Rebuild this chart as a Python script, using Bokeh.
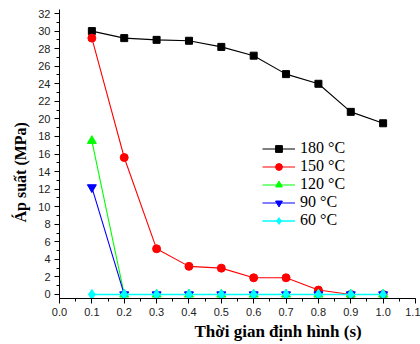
import numpy as np
from bokeh.plotting import figure
from bokeh.models import (Range1d, FixedTicker, PrintfTickFormatter, Legend, LegendItem, Title)
from bokeh.embed import file_html
from bokeh.resources import INLINE

# ---- data ----
time_s = [0.1, 0.2, 0.3, 0.4, 0.5, 0.6, 0.7, 0.8, 0.9, 1.0]
p_180 = [30.0, 29.2, 29.0, 28.9, 28.2, 27.2, 25.1, 24.0, 20.8, 19.5]
p_150 = [29.2, 15.6, 5.2, 3.2, 3.0, 1.9, 1.9, 0.5, 0.0, 0.0]
p_120 = [17.5, 0.0, 0.0, 0.0, 0.0, 0.0, 0.0, 0.0, 0.0, 0.0]
p_90 = [12.2, 0.0, 0.0, 0.0, 0.0, 0.0, 0.0, 0.0, 0.0, 0.0]
p_60 = [0.0, 0.0, 0.0, 0.0, 0.0, 0.0, 0.0, 0.0, 0.0, 0.0]
series_labels = ["180 °C", "150 °C", "120 °C", "90 °C", "60 °C"]
x_ticks = [0.0, 0.1, 0.2, 0.3, 0.4, 0.5, 0.6, 0.7, 0.8, 0.9, 1.0, 1.1]
y_ticks = list(range(0, 33, 2))
x_title = "Thời gian định hình (s)"
y_title = "Áp suất (MPa)"

p = figure(width=420, height=344, output_backend="svg", toolbar_location=None,
           x_range=Range1d(0, 1.1), y_range=Range1d(-0.46, 32.46),
           min_border_left=59, min_border_right=5, min_border_top=9, min_border_bottom=46)
p.outline_line_color = None
p.grid.visible = False
p.background_fill_color = "white"
p.border_fill_color = "white"

p.xaxis.ticker = FixedTicker(ticks=x_ticks, minor_ticks=[i * 0.05 for i in range(0, 23)])
p.yaxis.ticker = FixedTicker(ticks=y_ticks, minor_ticks=list(range(0, 33)))
p.xaxis.formatter = PrintfTickFormatter(format="%.1f")
for ax in (p.xaxis, p.yaxis):
    ax.axis_line_color = "black"
    ax.axis_line_width = 1
    ax.major_tick_line_color = "black"
    ax.minor_tick_line_color = "black"
    ax.major_tick_out = 5
    ax.major_tick_in = 0
    ax.minor_tick_out = 3
    ax.minor_tick_in = 0
    ax.major_label_text_font = "Liberation Sans"
    ax.major_label_text_font_size = "11px"
    ax.major_label_text_color = "#222222"
p.xaxis.major_label_standoff = 4
p.yaxis.major_label_standoff = 4

colors = ["#000000", "#ff0000", "#00ff00", "#0000ff", "#00ffff"]
markers = ["square", "circle", "triangle", "inverted_triangle", "diamond"]
sizes = [7, 8, 9, 9, 10]
data = [p_180, p_150, p_120, p_90, p_60]

items = []
for ys, c, m, s, lab in zip(data, colors, markers, sizes, series_labels):
    lw = 1.6 if c == "#00ffff" else 1.1
    r1 = p.line(time_s, ys, line_color=c, line_width=lw)
    r2 = p.scatter(time_s, ys, marker=m, size=s, fill_color=c, line_color=c)
    items.append(LegendItem(label=lab, renderers=[r1, r2]))

legend = Legend(items=items, location=(203, 69), padding=0, margin=0,
                border_line_alpha=0, background_fill_alpha=0,
                glyph_width=33, glyph_height=17, label_height=17, spacing=0,
                label_standoff=5, label_text_font="Liberation Serif",
                label_text_font_size="16px", label_text_color="black")
p.add_layout(legend, "center")

p.add_layout(Title(text=x_title, align="left", offset=135, standoff=3,
                   text_font="Liberation Serif", text_font_style="bold",
                   text_font_size="17px", text_color="black"), "below")
p.add_layout(Title(text=y_title, align="left", offset=76, standoff=13,
                   text_font="Liberation Serif", text_font_style="bold",
                   text_font_size="16px", text_color="black"), "left")

open("out.html", "w").write(file_html(p, INLINE))
